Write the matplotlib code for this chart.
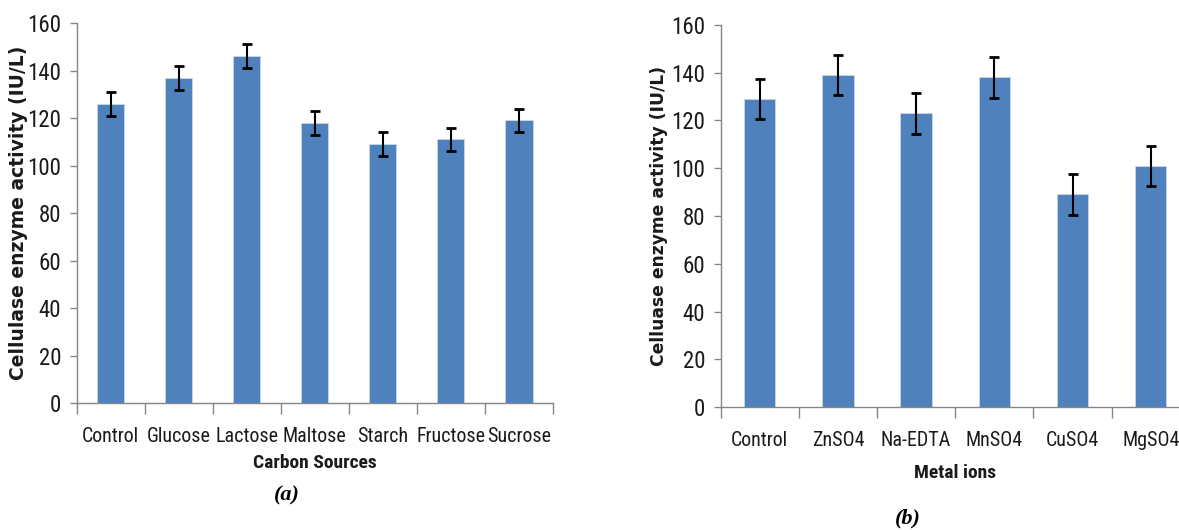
import matplotlib
import matplotlib.pyplot as plt
import numpy as np
from matplotlib import font_manager

matplotlib.use("agg")

carbon_sources = ["Control", "Glucose", "Lactose", "Maltose", "Starch", "Fructose", "Sucrose"]
carbon_activity = [126, 137, 146, 118, 109, 111, 119]
carbon_err = [5, 5, 5, 5, 5, 5, 5]

metal_ions = ["Control", "ZnSO4", "Na-EDTA", "MnSO4", "CuSO4", "MgSO4"]
metal_activity = [129, 139, 123, 138, 89, 101]
metal_err = [8.5, 8.5, 8.5, 8.5, 8.5, 8.5]

BAR_COLOR = "#4F81BD"
AXIS_COLOR = "#868686"
TEXT_COLOR = "#1a1a1a"


def _pick_font():
    """First narrow family that is installed, with a size that suits it."""
    candidates = [
        ("Liberation Sans Narrow", 1.0),
        ("Roboto Condensed", 1.0),
        ("Open Sans Condensed", 1.0),
        ("Noto Sans Condensed", 1.0),
        ("DejaVu Sans Condensed", 0.92),
    ]
    for name, scale in candidates:
        try:
            font_manager.findfont(font_manager.FontProperties(family=name),
                                  fallback_to_default=False)
            return name, scale
        except ValueError:
            continue
    return "Lato", 0.85


FONT, SCALE = _pick_font()
plt.rcParams["font.family"] = [FONT, "DejaVu Sans"]


def _draw_panel(ax, labels, values, errs, xlabel, ylabel, ylabel_size):
    x = np.arange(len(labels))
    ax.bar(x, values, width=0.4, color=BAR_COLOR, edgecolor="#c9d7ea", linewidth=0.6, zorder=2)
    ax.errorbar(x, values, yerr=errs, fmt="none", ecolor="black", elinewidth=1.5,
                capsize=3.5, capthick=2, zorder=3)

    ax.set_xlim(-0.5, len(labels) - 0.5)
    ax.set_ylim(0, 160)
    ax.set_yticks(np.arange(0, 161, 20))

    # ticks sit between the bars, labels sit under the bars
    ax.set_xticks(np.arange(len(labels) + 1) - 0.5)
    ax.set_xticklabels([])
    ax.set_xticks(x, minor=True)
    ax.set_xticklabels(labels, minor=True)
    ax.tick_params(axis="x", which="major", length=8, width=1, color=AXIS_COLOR, direction="out")
    ax.tick_params(axis="x", which="minor", length=0, pad=17, labelsize=14.4 * SCALE,
                   labelcolor=TEXT_COLOR)
    ax.tick_params(axis="y", length=5, width=1, color=AXIS_COLOR, pad=6,
                   labelsize=16.5 * SCALE, labelcolor=TEXT_COLOR)

    for side in ("top", "right"):
        ax.spines[side].set_visible(False)
    for side in ("left", "bottom"):
        ax.spines[side].set_color(AXIS_COLOR)
        ax.spines[side].set_linewidth(1)

    ax.set_xlabel(xlabel, fontsize=14 * SCALE, fontweight="bold", color=TEXT_COLOR)
    ax.set_ylabel(ylabel, fontsize=ylabel_size, fontweight="bold", family="DejaVu Sans",
                  color=TEXT_COLOR)


fig = plt.figure(figsize=(11.79, 5.30), dpi=100)

ax_a = fig.add_axes([0.065, 0.2396, 0.404, 0.717])
_draw_panel(ax_a, carbon_sources, carbon_activity, carbon_err,
            "Carbon Sources", "Cellulase enzyme activity (IU/L)", 13.5)
ax_a.yaxis.set_label_coords(-0.102, 0.5)
ax_a.xaxis.set_label_coords(0.5, -0.134)

ax_b = fig.add_axes([0.6112, 0.232, 0.398, 0.721])
_draw_panel(ax_b, metal_ions, metal_activity, metal_err,
            "Metal ions", "Celluase enzyme activity (IU/L)", 12.3)
ax_b.yaxis.set_label_coords(-0.112, 0.5)
ax_b.xaxis.set_label_coords(0.5, -0.149)

fig.text(287 / 1179, 1 - 495 / 530, "(a)", ha="center", va="center", fontsize=16,
         family="Liberation Serif", fontweight="bold", style="italic")
fig.text(908 / 1179, 1 - 518 / 530, "(b)", ha="center", va="center", fontsize=16,
         family="Liberation Serif", fontweight="bold", style="italic")

fig.savefig("out.png", dpi=100)
plt.close("all")
